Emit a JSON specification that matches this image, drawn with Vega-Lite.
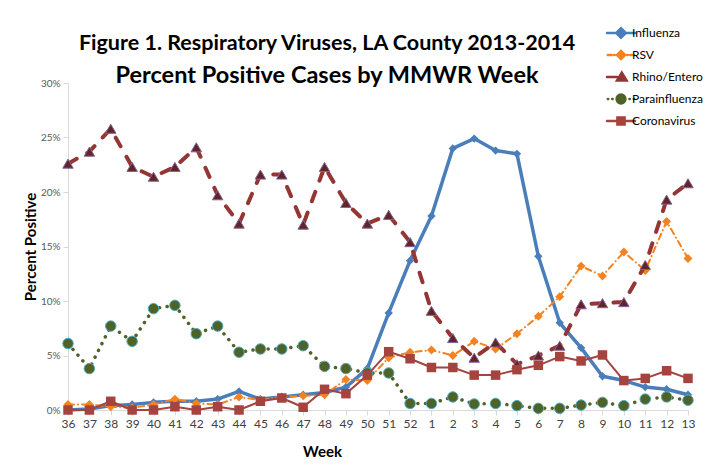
{
  "$schema": "https://vega.github.io/schema/vega-lite/v6.json",
  "width": 620,
  "height": 327,
  "autosize": "none",
  "padding": {"left": 68, "top": 83, "right": 23, "bottom": 60},
  "background": "white",
  "config": {
    "view": {"stroke": null},
    "font": "Lato",
    "axis": {"grid": false, "domainColor": "#D9D9D9", "tickColor": "#D9D9D9", "labelColor": "#404040", "labelFont": "Lato", "titleFont": "Lato", "titleColor": "#000000"}
  },
  "title": {
    "text": "Figure 1. Respiratory Viruses, LA County 2013-2014",
    "subtitle": "Percent Positive Cases by MMWR Week",
    "font": "Lato",
    "fontSize": 21.5,
    "fontWeight": "bold",
    "color": "#000000",
    "subtitleFont": "Lato",
    "subtitleFontSize": 23.5,
    "subtitleFontWeight": "bold",
    "subtitleColor": "#000000",
    "subtitlePadding": 9,
    "anchor": "middle",
    "frame": "group",
    "dx": -51,
    "offset": -60
  },
  "data": {
    "values": [
      {"week": "36", "virus": "Influenza", "pct": 0.0},
      {"week": "37", "virus": "Influenza", "pct": 0.1},
      {"week": "38", "virus": "Influenza", "pct": 0.4},
      {"week": "39", "virus": "Influenza", "pct": 0.5},
      {"week": "40", "virus": "Influenza", "pct": 0.7},
      {"week": "41", "virus": "Influenza", "pct": 0.8},
      {"week": "42", "virus": "Influenza", "pct": 0.8},
      {"week": "43", "virus": "Influenza", "pct": 1.0},
      {"week": "44", "virus": "Influenza", "pct": 1.7},
      {"week": "45", "virus": "Influenza", "pct": 1.0},
      {"week": "46", "virus": "Influenza", "pct": 1.2},
      {"week": "47", "virus": "Influenza", "pct": 1.4},
      {"week": "48", "virus": "Influenza", "pct": 1.6},
      {"week": "49", "virus": "Influenza", "pct": 2.1},
      {"week": "50", "virus": "Influenza", "pct": 3.8},
      {"week": "51", "virus": "Influenza", "pct": 8.9},
      {"week": "52", "virus": "Influenza", "pct": 13.7},
      {"week": "1", "virus": "Influenza", "pct": 17.8},
      {"week": "2", "virus": "Influenza", "pct": 24.0},
      {"week": "3", "virus": "Influenza", "pct": 24.9},
      {"week": "4", "virus": "Influenza", "pct": 23.8},
      {"week": "5", "virus": "Influenza", "pct": 23.5},
      {"week": "6", "virus": "Influenza", "pct": 14.1},
      {"week": "7", "virus": "Influenza", "pct": 8.0},
      {"week": "8", "virus": "Influenza", "pct": 5.7},
      {"week": "9", "virus": "Influenza", "pct": 3.1},
      {"week": "10", "virus": "Influenza", "pct": 2.7},
      {"week": "11", "virus": "Influenza", "pct": 2.1},
      {"week": "12", "virus": "Influenza", "pct": 1.9},
      {"week": "13", "virus": "Influenza", "pct": 1.4},
      {"week": "36", "virus": "RSV", "pct": 0.5},
      {"week": "37", "virus": "RSV", "pct": 0.5},
      {"week": "38", "virus": "RSV", "pct": 0.3},
      {"week": "39", "virus": "RSV", "pct": 0.2},
      {"week": "40", "virus": "RSV", "pct": 0.5},
      {"week": "41", "virus": "RSV", "pct": 1.0},
      {"week": "42", "virus": "RSV", "pct": 0.6},
      {"week": "43", "virus": "RSV", "pct": 0.5},
      {"week": "44", "virus": "RSV", "pct": 1.2},
      {"week": "45", "virus": "RSV", "pct": 0.9},
      {"week": "46", "virus": "RSV", "pct": 1.2},
      {"week": "47", "virus": "RSV", "pct": 1.3},
      {"week": "48", "virus": "RSV", "pct": 1.4},
      {"week": "49", "virus": "RSV", "pct": 2.8},
      {"week": "50", "virus": "RSV", "pct": 2.7},
      {"week": "51", "virus": "RSV", "pct": 4.8},
      {"week": "52", "virus": "RSV", "pct": 5.3},
      {"week": "1", "virus": "RSV", "pct": 5.5},
      {"week": "2", "virus": "RSV", "pct": 5.0},
      {"week": "3", "virus": "RSV", "pct": 6.3},
      {"week": "4", "virus": "RSV", "pct": 5.6},
      {"week": "5", "virus": "RSV", "pct": 7.0},
      {"week": "6", "virus": "RSV", "pct": 8.6},
      {"week": "7", "virus": "RSV", "pct": 10.4},
      {"week": "8", "virus": "RSV", "pct": 13.2},
      {"week": "9", "virus": "RSV", "pct": 12.3},
      {"week": "10", "virus": "RSV", "pct": 14.5},
      {"week": "11", "virus": "RSV", "pct": 12.8},
      {"week": "12", "virus": "RSV", "pct": 17.3},
      {"week": "13", "virus": "RSV", "pct": 13.9},
      {"week": "36", "virus": "Rhino/Entero", "pct": 22.6},
      {"week": "37", "virus": "Rhino/Entero", "pct": 23.7},
      {"week": "38", "virus": "Rhino/Entero", "pct": 25.8},
      {"week": "39", "virus": "Rhino/Entero", "pct": 22.3},
      {"week": "40", "virus": "Rhino/Entero", "pct": 21.4},
      {"week": "41", "virus": "Rhino/Entero", "pct": 22.3},
      {"week": "42", "virus": "Rhino/Entero", "pct": 24.1},
      {"week": "43", "virus": "Rhino/Entero", "pct": 19.7},
      {"week": "44", "virus": "Rhino/Entero", "pct": 17.1},
      {"week": "45", "virus": "Rhino/Entero", "pct": 21.6},
      {"week": "46", "virus": "Rhino/Entero", "pct": 21.6},
      {"week": "47", "virus": "Rhino/Entero", "pct": 17.0},
      {"week": "48", "virus": "Rhino/Entero", "pct": 22.3},
      {"week": "49", "virus": "Rhino/Entero", "pct": 19.0},
      {"week": "50", "virus": "Rhino/Entero", "pct": 17.1},
      {"week": "51", "virus": "Rhino/Entero", "pct": 17.9},
      {"week": "52", "virus": "Rhino/Entero", "pct": 15.4},
      {"week": "1", "virus": "Rhino/Entero", "pct": 9.1},
      {"week": "2", "virus": "Rhino/Entero", "pct": 6.6},
      {"week": "3", "virus": "Rhino/Entero", "pct": 4.8},
      {"week": "4", "virus": "Rhino/Entero", "pct": 6.2},
      {"week": "5", "virus": "Rhino/Entero", "pct": 4.2},
      {"week": "6", "virus": "Rhino/Entero", "pct": 5.0},
      {"week": "7", "virus": "Rhino/Entero", "pct": 5.9},
      {"week": "8", "virus": "Rhino/Entero", "pct": 9.7},
      {"week": "9", "virus": "Rhino/Entero", "pct": 9.8},
      {"week": "10", "virus": "Rhino/Entero", "pct": 9.9},
      {"week": "11", "virus": "Rhino/Entero", "pct": 13.3},
      {"week": "12", "virus": "Rhino/Entero", "pct": 19.3},
      {"week": "13", "virus": "Rhino/Entero", "pct": 20.8},
      {"week": "36", "virus": "Parainfluenza", "pct": 6.1},
      {"week": "37", "virus": "Parainfluenza", "pct": 3.8},
      {"week": "38", "virus": "Parainfluenza", "pct": 7.7},
      {"week": "39", "virus": "Parainfluenza", "pct": 6.3},
      {"week": "40", "virus": "Parainfluenza", "pct": 9.3},
      {"week": "41", "virus": "Parainfluenza", "pct": 9.6},
      {"week": "42", "virus": "Parainfluenza", "pct": 7.0},
      {"week": "43", "virus": "Parainfluenza", "pct": 7.7},
      {"week": "44", "virus": "Parainfluenza", "pct": 5.3},
      {"week": "45", "virus": "Parainfluenza", "pct": 5.6},
      {"week": "46", "virus": "Parainfluenza", "pct": 5.6},
      {"week": "47", "virus": "Parainfluenza", "pct": 5.9},
      {"week": "48", "virus": "Parainfluenza", "pct": 4.0},
      {"week": "49", "virus": "Parainfluenza", "pct": 3.8},
      {"week": "50", "virus": "Parainfluenza", "pct": 3.4},
      {"week": "51", "virus": "Parainfluenza", "pct": 3.4},
      {"week": "52", "virus": "Parainfluenza", "pct": 0.6},
      {"week": "1", "virus": "Parainfluenza", "pct": 0.6},
      {"week": "2", "virus": "Parainfluenza", "pct": 1.2},
      {"week": "3", "virus": "Parainfluenza", "pct": 0.55},
      {"week": "4", "virus": "Parainfluenza", "pct": 0.6},
      {"week": "5", "virus": "Parainfluenza", "pct": 0.4},
      {"week": "6", "virus": "Parainfluenza", "pct": 0.15},
      {"week": "7", "virus": "Parainfluenza", "pct": 0.15},
      {"week": "8", "virus": "Parainfluenza", "pct": 0.45},
      {"week": "9", "virus": "Parainfluenza", "pct": 0.7},
      {"week": "10", "virus": "Parainfluenza", "pct": 0.4},
      {"week": "11", "virus": "Parainfluenza", "pct": 1.0},
      {"week": "12", "virus": "Parainfluenza", "pct": 1.2},
      {"week": "13", "virus": "Parainfluenza", "pct": 0.9},
      {"week": "36", "virus": "Coronavirus", "pct": 0.0},
      {"week": "37", "virus": "Coronavirus", "pct": 0.0},
      {"week": "38", "virus": "Coronavirus", "pct": 0.8},
      {"week": "39", "virus": "Coronavirus", "pct": 0.0},
      {"week": "40", "virus": "Coronavirus", "pct": 0.0},
      {"week": "41", "virus": "Coronavirus", "pct": 0.3},
      {"week": "42", "virus": "Coronavirus", "pct": 0.0},
      {"week": "43", "virus": "Coronavirus", "pct": 0.3},
      {"week": "44", "virus": "Coronavirus", "pct": 0.0},
      {"week": "45", "virus": "Coronavirus", "pct": 0.8},
      {"week": "46", "virus": "Coronavirus", "pct": 1.1},
      {"week": "47", "virus": "Coronavirus", "pct": 0.25},
      {"week": "48", "virus": "Coronavirus", "pct": 1.9},
      {"week": "49", "virus": "Coronavirus", "pct": 1.5},
      {"week": "50", "virus": "Coronavirus", "pct": 3.2},
      {"week": "51", "virus": "Coronavirus", "pct": 5.35},
      {"week": "52", "virus": "Coronavirus", "pct": 4.7},
      {"week": "1", "virus": "Coronavirus", "pct": 3.9},
      {"week": "2", "virus": "Coronavirus", "pct": 3.9},
      {"week": "3", "virus": "Coronavirus", "pct": 3.2},
      {"week": "4", "virus": "Coronavirus", "pct": 3.2},
      {"week": "5", "virus": "Coronavirus", "pct": 3.7},
      {"week": "6", "virus": "Coronavirus", "pct": 4.1},
      {"week": "7", "virus": "Coronavirus", "pct": 4.9},
      {"week": "8", "virus": "Coronavirus", "pct": 4.5},
      {"week": "9", "virus": "Coronavirus", "pct": 5.05},
      {"week": "10", "virus": "Coronavirus", "pct": 2.7},
      {"week": "11", "virus": "Coronavirus", "pct": 2.9},
      {"week": "12", "virus": "Coronavirus", "pct": 3.6},
      {"week": "13", "virus": "Coronavirus", "pct": 2.9}
    ]
  },
  "encoding": {
    "x": {
      "field": "week", "type": "ordinal",
      "scale": {"type": "point", "padding": 0, "domain": ["36","37","38","39","40","41","42","43","44","45","46","47","48","49","50","51","52","1","2","3","4","5","6","7","8","9","10","11","12","13"]},
      "axis": {"labelAngle": 0, "labelFontSize": 12, "tickSize": 5, "labelPadding": 3, "title": "Week", "titleFontSize": 15, "titleFontWeight": "bold", "titlePadding": 15, "titleX": 254}
    },
    "y": {
      "field": "pct", "type": "quantitative",
      "scale": {"domain": [0, 30], "nice": false},
      "axis": {"values": [0,5,10,15,20,25,30], "labelExpr": "datum.value + '%'", "labelFontSize": 10, "labelColor": "#595959", "tickSize": 5, "labelPadding": 3, "title": "Percent Positive", "titleFontSize": 15, "titleFontWeight": "bold", "titlePadding": 2}
    }
  },
  "layer": [
    {
      "transform": [{"filter": "datum.virus === 'Influenza'"}],
      "mark": {"type": "line", "strokeWidth": 3.5, "strokeCap": "round", "strokeJoin": "round", "clip": false},
      "encoding": {
        "color": {
          "field": "virus", "type": "nominal",
          "scale": {"domain": ["Influenza", "RSV", "Rhino/Entero", "Parainfluenza", "Coronavirus"], "range": ["#4A7EBB", "#F4831F", "#943634", "#4F6228", "#A5433F"]},
          "legend": {
            "title": null,
            "orient": "none",
            "legendX": 537,
            "legendY": -56,
            "labelFont": "Lato",
            "labelFontSize": 12,
            "labelColor": "#000000",
            "symbolSize": 64,
            "symbolStrokeWidth": 2.5,
            "symbolOffset": 10,
            "labelOffset": 5,
            "rowPadding": 3,
            "encode": {
              "symbols": {
                "update": {
                  "shape": {"signal": "datum.value === 'Influenza' ? 'M-3.5,0H3.5M0,-1.2L1.2,0L0,1.2L-1.2,0Z' : datum.value === 'RSV' ? 'M-3.3,0H-2.3M-1.7,0H-1.6M1.6,0H1.7M2.3,0H3.3M0,-1L1,0L0,1L-1,0Z' : datum.value === 'Rhino/Entero' ? 'M-3.5,0H-1M0.2,-1.1L1.4,0.9L-1,0.9Z' : datum.value === 'Parainfluenza' ? 'M-3.3,0H-3.2M-2.2,0H-2.1M2.1,0H2.2M3.2,0H3.3M-1.1,0A1.1,1.1 0 1,0 1.1,0A1.1,1.1 0 1,0 -1.1,0Z' : 'M-3.5,0H3.5M-0.9,-0.9H0.9V0.9H-0.9Z'"},
                  "fill": {"signal": "datum.value === 'Influenza' ? '#4A7EBB' : datum.value === 'RSV' ? '#F4831F' : datum.value === 'Rhino/Entero' ? '#943634' : datum.value === 'Parainfluenza' ? '#4F6228' : '#A5433F'"},
                  "stroke": {"signal": "datum.value === 'Influenza' ? '#4A7EBB' : datum.value === 'RSV' ? '#F4831F' : datum.value === 'Rhino/Entero' ? '#943634' : datum.value === 'Parainfluenza' ? '#4F6228' : '#A5433F'"},
                  "strokeWidth": {"value": 2.5},
                  "strokeCap": {"value": "round"},
                  "opacity": {"value": 1}
                }
              }
            }
          }
        }
      }
    },
    {
      "transform": [{"filter": "datum.virus === 'Influenza'"}],
      "mark": {"type": "point", "shape": "diamond", "size": 70, "filled": true, "opacity": 1, "color": "#4A7EBB", "clip": false}
    },
    {
      "transform": [{"filter": "datum.virus === 'RSV'"}],
      "mark": {"type": "line", "color": "#F4831F", "strokeWidth": 2, "strokeCap": "round", "strokeDash": [6, 4, 0.1, 4], "clip": false}
    },
    {
      "transform": [{"filter": "datum.virus === 'RSV'"}],
      "mark": {"type": "point", "shape": "diamond", "size": 80, "filled": true, "opacity": 1, "color": "#F4831F", "clip": false}
    },
    {
      "transform": [{"filter": "datum.virus === 'Rhino/Entero'"}],
      "mark": {"type": "line", "color": "#943634", "strokeWidth": 4, "strokeCap": "round", "strokeDash": [10, 12], "clip": false}
    },
    {
      "transform": [{"filter": "datum.virus === 'Rhino/Entero'"}],
      "mark": {"type": "point", "shape": "triangle-up", "size": 110, "filled": true, "opacity": 1, "fill": "#632523", "stroke": "#8064A2", "strokeWidth": 1, "clip": false}
    },
    {
      "transform": [{"filter": "datum.virus === 'Parainfluenza'"}],
      "mark": {"type": "line", "color": "#4F6228", "strokeWidth": 3.5, "strokeCap": "round", "strokeDash": [0.1, 7.5], "clip": false}
    },
    {
      "transform": [{"filter": "datum.virus === 'Parainfluenza'"}],
      "mark": {"type": "point", "shape": "circle", "size": 110, "filled": true, "opacity": 1, "fill": "#4F6228", "stroke": "#4BACC6", "strokeWidth": 1, "clip": false}
    },
    {
      "transform": [{"filter": "datum.virus === 'Coronavirus'"}],
      "mark": {"type": "line", "color": "#A5433F", "strokeWidth": 2, "strokeJoin": "round", "clip": false}
    },
    {
      "transform": [{"filter": "datum.virus === 'Coronavirus'"}],
      "mark": {"type": "point", "shape": "square", "size": 90, "filled": true, "opacity": 1, "color": "#A5433F", "clip": false}
    }
  ]
}
